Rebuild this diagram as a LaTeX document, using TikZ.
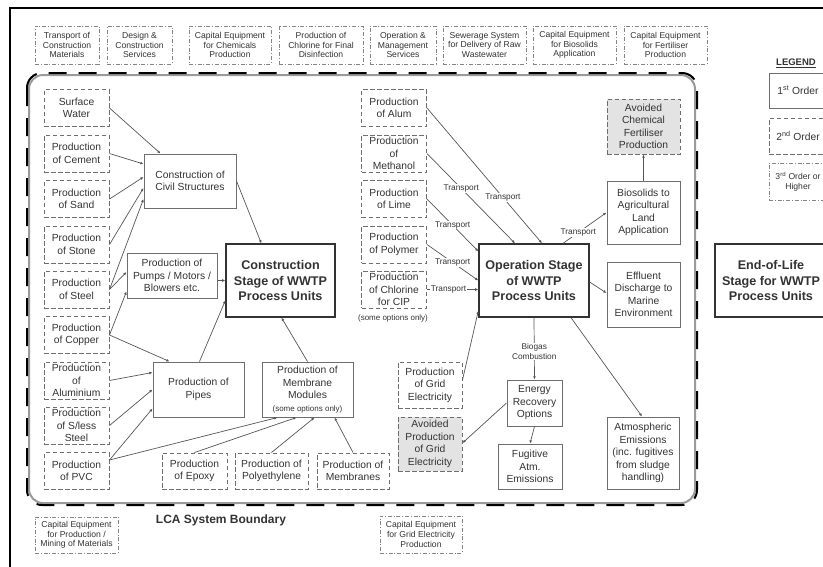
\documentclass[tikz,border=0pt]{standalone}
\usepackage{fontspec}
\setmainfont{Liberation Sans}
\usetikzlibrary{arrows.meta,calc}
\definecolor{txt}{HTML}{333333}
\definecolor{boxline}{HTML}{6E6E6E}
\definecolor{conline}{HTML}{555555}
\definecolor{avfill}{HTML}{E3E3E3}
\definecolor{bndgray}{HTML}{9A9A9A}

\begin{document}
\begin{tikzpicture}[x=1pt,y=-1pt,
	>={Latex[length=3.2pt,width=2.8pt]},
	first/.style={draw=boxline,line width=1pt,align=center,inner sep=1pt,text=txt,font=\fontsize{10.3}{12.5}\selectfont},
	second/.style={first,dash pattern=on 4.5pt off 2.5pt},
	third/.style={first,draw=boxline!85,line width=0.8pt,dash pattern=on 4pt off 1.8pt on 1pt off 1.8pt,font=\fontsize{8.6}{9.6}\selectfont},
	col/.style={second,minimum width=65,minimum height=37},
	upper/.style={third,minimum height=38},
	stage/.style={first,draw=txt,line width=1.3pt,minimum width=110,minimum height=73,font=\fontsize{12.6}{15.3}\selectfont\bfseries},
	avoided/.style={second,fill=avfill},
	arr/.style={->,draw=conline,line width=0.7pt},
	lbl/.style={fill=white,inner sep=0.6pt,align=center,text=txt,font=\fontsize{8.3}{9.3}\selectfont}]
	\useasboundingbox (0,0) rectangle (823,566);
	\clip (0,0) rectangle (823,566);
	% outer frame and LCA system boundary
	\draw[line width=2pt] (10,8) rectangle (900,700);
	\draw[bndgray,line width=2pt,rounded corners=14] (29,75) rectangle (695,503);
	\draw[line width=2pt,rounded corners=15,dash pattern=on 18pt off 12pt] (27,73) rectangle (697,505);
	\node[text=txt,font=\fontsize{12}{14}\selectfont\bfseries] (lca) at (221,520) {LCA System Boundary};

	% third order inputs
	\node[upper,minimum width=64] (tcm) at (67,45) {Transport of\\Construction\\Materials};
	\node[upper,minimum width=65] (dcs) at (139.5,45) {Design \&\\Construction\\Services};
	\node[upper,minimum width=82] (cec) at (230,45) {Capital Equipment\\for Chemicals\\Production};
	\node[upper,minimum width=84] (pcf) at (321,45) {Production of\\Chlorine for Final\\Disinfection};
	\node[upper,minimum width=66] (oms) at (403,45) {Operation \&\\Management\\Services};
	\node[upper,minimum width=83] (ssd) at (484.5,45) {Sewerage System\\for Delivery of Raw\\Wastewater};
	\node[upper,minimum width=83] (ceb) at (574.5,45) {Capital Equipment\\for Biosolids\\Application};
	\node[upper,minimum width=83] (cef) at (665.5,45) {Capital Equipment\\for Fertiliser\\Production};
	\node[upper,minimum width=83,minimum height=36] (cepm) at (76.5,535) {Capital Equipment\\for Production /\\Mining of Materials};
	\node[upper,minimum width=82,minimum height=37] (ceg) at (421,534.5) {Capital Equipment\\for Grid Electricity\\Production};

	% construction stage
	\node[col] (sw) at (76.5,108) {Surface\\Water};
	\node[col] (cement) at (76.5,153.5) {Production\\of Cement};
	\node[col] (sand) at (76.5,199) {Production\\of Sand};
	\node[col] (stone) at (76.5,244.5) {Production\\of Stone};
	\node[col] (steel) at (76.5,289.5) {Production\\of Steel};
	\node[col] (copper) at (76.5,335) {Production\\of Copper};
	\node[col] (alu) at (76.5,380.5) {Production\\of\\Aluminium};
	\node[col] (sless) at (76.5,425.5) {Production\\of S/less\\Steel};
	\node[col] (pvc) at (76.5,471) {Production\\of PVC};
	\node[first,minimum width=92,minimum height=54] (civil) at (190,181) {Construction of\\Civil Structures};
	\node[first,minimum width=90,minimum height=45] (pumps) at (172,275.5) {Production of\\Pumps / Motors /\\Blowers etc.};
	\node[stage,minimum width=109] (cstage) at (280.5,280.5) {Construction\\Stage of WWTP\\Process Units};
	\node[first,minimum width=91,minimum height=55] (pipes) at (198.5,389.5) {Production of\\Pipes};
	\node[first,minimum width=91,minimum height=55] (memb) at (307.5,389.5) {Production of\\Membrane\\Modules\\{\fontsize{8}{9}\selectfont(some options only)}};
	\node[second,minimum width=65,minimum height=36] (epoxy) at (194.5,471) {Production\\of Epoxy};
	\node[second,minimum width=73,minimum height=36] (poly) at (271.5,471) {Production of\\Polyethylene};
	\node[second,minimum width=72,minimum height=36] (mbr) at (353,471) {Production of\\Membranes};

	% operation stage
	\node[col] (alum) at (394,108) {Production\\of Alum};
	\node[col] (meth) at (394,153.5) {Production\\of\\Methanol};
	\node[col] (lime) at (394,199) {Production\\of Lime};
	\node[col] (polym) at (394,244.5) {Production\\of Polymer};
	\node[col] (clcip) at (394,289.5) {Production\\of Chlorine\\for CIP};
	\node[text=txt,font=\fontsize{8}{9}\selectfont] (cipnote) at (393,318) {(some options only)};
	\node[stage] (opstage) at (534,280.5) {Operation Stage\\of WWTP\\Process Units};
	\node[avoided,minimum width=73,minimum height=55] (fert) at (643.5,126.5) {Avoided\\Chemical\\Fertiliser\\Production};
	\node[first,minimum width=73,minimum height=63] (bio) at (643.5,212.5) {Biosolids to\\Agricultural\\Land\\Application};
	\node[first,minimum width=73,minimum height=65] (eff) at (643.5,294.5) {Effluent\\Discharge to\\Marine\\Environment};
	\node[first,minimum width=72,minimum height=72] (atm) at (643,453) {Atmospheric\\Emissions\\(inc. fugitives\\from sludge\\handling)};
	\node[second,minimum width=64,minimum height=46] (grid) at (430,385) {Production\\of Grid\\Electricity};
	\node[avoided,minimum width=64,minimum height=54] (avgrid) at (430,444) {Avoided\\Production\\of Grid\\Electricity};
	\node[first,minimum width=55,minimum height=46] (energy) at (534.5,403) {Energy\\Recovery\\Options};
	\node[first,minimum width=64,minimum height=45] (fug) at (530,466.5) {Fugitive\\Atm.\\Emissions};

	% end of life and legend
	\node[stage,minimum width=112] (eol) at (771,280.5) {End-of-Life\\Stage for WWTP\\Process Units};
	\node[text=txt,font=\fontsize{9.5}{11}\selectfont\bfseries] (legend) at (796,63) {\underline{LEGEND}};
	\node[first,minimum width=58,minimum height=35] (leg1) at (798,90.5) {1\textsuperscript{st} Order};
	\node[second,minimum width=58,minimum height=36] (leg2) at (798,136) {2\textsuperscript{nd} Order};
	\node[third,minimum width=58,minimum height=37] (leg3) at (798,181.5) {3\textsuperscript{rd} Order or\\Higher};

	% construction links
	\draw[arr] (sw.east) to ($(civil.north west)+(17,0)$);
	\draw[arr] (cement.east) to ($(civil.west)+(0,-17)$);
	\draw[arr] (sand.east) to ($(civil.west)+(0,-4)$);
	\draw[arr] (stone.east) to ($(civil.west)+(0,7)$);
	\draw[arr] (steel.east) to ($(civil.west)+(0,18)$);
	\draw[arr] (steel.east) to ($(pumps.west)+(0,-3.5)$);
	\draw[arr] (copper.east) to ($(pumps.west)+(0,16)$);
	\draw[arr] (copper.east) to ($(pipes.north west)+(17,0)$);
	\draw[arr] (alu.east) to ($(pipes.west)+(0,-17)$);
	\draw[arr] (sless.east) to (pipes.west);
	\draw[arr] ($(pvc.north east)+(0,8)$) to ($(pipes.south west)+(0,-9)$);
	\draw[arr] ($(pvc.north east)+(0,8)$) to ($(memb.south west)+(16,0)$);
	\draw[arr] (epoxy.north) to ($(memb.south west)+(35,0)$);
	\draw[arr] (poly.north) to ($(memb.south)+(7,0)$);
	\draw[arr] (mbr.north) to ($(memb.south)+(27,0)$);
	\draw[arr] ($(pipes.north)+(1,0)$) to ($(cstage.west)+(0,20)$);
	\draw[arr] (memb.north) to ($(cstage.south)+(1,0)$);
	\draw[arr] (civil.east) to ($(cstage.north west)+(36,0)$);
	\draw[arr] ($(pumps.east)+(0,5)$) to (cstage.west);

	% operation links
	\draw[arr] (alum.east) to node[lbl,pos=0.66] {Transport} ($(opstage.north)+(8,0)$);
	\draw[arr] (meth.east) to node[lbl,pos=0.39] {Transport} ($(opstage.north)+(-19,0)$);
	\draw[arr] (lime.east) to node[lbl] {Transport} ($(opstage.north west)+(0,8)$);
	\draw[arr] (polym.east) to node[lbl] {Transport} (opstage.west);
	\draw[arr] (clcip.east) to node[lbl,pos=0.42] {Transport} ($(opstage.west)+(0,9)$);
	\draw[arr] ($(opstage.north)+(29,0)$) to node[lbl,pos=0.35] {Transport} (bio.west);
	\draw[arr] ($(opstage.east)+(0,1.5)$) to ($(eff.west)+(0,-1.5)$);
	\draw[arr] (bio.north) to (fert.south);
	\draw[arr] ($(opstage.south)+(37,0)$) to ($(atm.north)+(-1,0)$);
	\draw[arr] (opstage.south) to node[lbl,pos=0.55] {Biogas\\Combustion} (energy.north);
	\draw[arr] ($(grid.east)+(0,-5)$) to ($(opstage.south west)+(0,-7)$);
	\draw[arr] (energy.west) to ($(avgrid.east)+(0,-1)$);
	\draw[arr] (energy.south) to (fug.north);
\end{tikzpicture}
\end{document}
